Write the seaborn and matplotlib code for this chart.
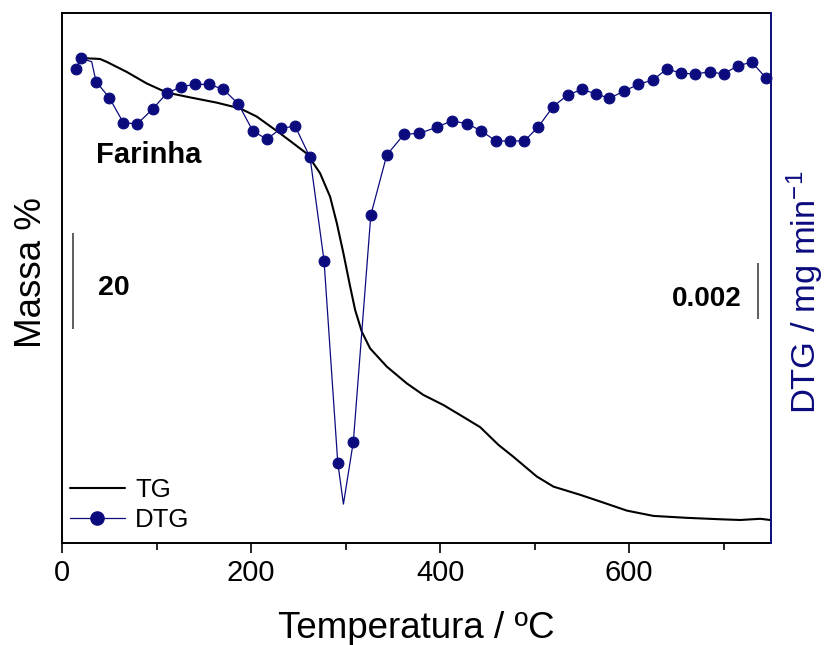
import matplotlib
matplotlib.use("Agg")
import matplotlib.pyplot as plt
import seaborn as sns
from matplotlib.lines import Line2D

# --- TG curve: temperature (ºC) and residual mass (%) ---
tg_temp = [19.8, 40.2, 47.3, 68.5, 89.6, 110.8, 135.4, 163.7, 188.4, 206.0,
           230.7, 258.9, 273.0, 283.6, 290.7, 297.7, 304.8, 310.1, 317.1, 325.9,
           343.6, 364.8, 382.3, 403.5, 424.7, 442.3, 461.7, 477.6, 502.3, 519.9,
           548.1, 569.3, 597.6, 625.7, 661.1, 696.3, 717.5, 738.6, 749.2]
tg_mass = [100.0, 99.8, 99.2, 97.1, 94.7, 92.8, 91.8, 90.7, 89.5, 87.8,
           84.3, 80.1, 76.0, 71.1, 65.6, 59.3, 52.4, 47.5, 43.0, 39.5,
           35.7, 32.2, 29.8, 27.7, 25.2, 23.1, 19.4, 16.9, 12.8, 10.7,
           9.0, 7.6, 5.7, 4.6, 4.2, 3.9, 3.75, 4.0, 3.75]

# --- DTG curve: temperature (ºC) and rate (mg/min) ---
dtg_temp = [14.8, 19.8, 31.4, 36.0, 50.1, 64.9, 79.7, 95.9, 110.8, 126.2,
            141.1, 155.9, 170.7, 186.6, 201.8, 216.6, 231.7, 246.6, 262.4, 277.2,
            291.7, 297.7, 308.2, 326.7, 343.6, 361.9, 378.1, 396.5, 412.4, 428.9,
            443.4, 458.9, 474.1, 489.2, 504.0, 519.3, 534.9, 549.9, 565.1, 579.1,
            595.0, 609.8, 625.1, 639.9, 655.0, 669.8, 685.0, 699.8, 715.0, 729.8,
            745.0]
dtg_rate = [-0.00051, -0.00012, -0.00024, -0.00095, -0.00153, -0.00242, -0.00246, -0.00193, -0.00137, -0.00113,
            -0.00105, -0.00105, -0.00123, -0.00175, -0.00271, -0.00301, -0.00262, -0.00254, -0.00366, -0.00735,
            -0.01456, -0.01604, -0.01381, -0.00571, -0.00357, -0.00283, -0.00280, -0.00258, -0.00235, -0.00246,
            -0.00271, -0.00307, -0.00307, -0.00307, -0.00256, -0.00185, -0.00143, -0.00123, -0.00139, -0.00155,
            -0.00128, -0.00105, -0.00089, -0.00050, -0.00065, -0.00068, -0.00060, -0.00068, -0.00038, -0.00026,
            -0.00083]
# points of the DTG trace that are drawn without a marker
dtg_unmarked = [2, 21]

# scale bars
mass_bar = 20
dtg_bar = 0.002

navy = "#0b0b7e"

sns.set_style("ticks")
plt.rcParams["font.family"] = ["Liberation Sans", "DejaVu Sans"]
plt.rcParams["mathtext.fontset"] = "custom"
plt.rcParams["mathtext.rm"] = "Liberation Sans"
plt.rcParams["mathtext.default"] = "regular"
for key in ["text.color", "axes.labelcolor", "xtick.color", "xtick.labelcolor"]:
    plt.rcParams[key] = "black"

fig = plt.figure(figsize=(8.27, 6.45), dpi=100)
ax = fig.add_axes([62 / 827, 1 - 542.7 / 645, 709 / 827, 530 / 645])
ax2 = ax.twinx()

sns.lineplot(x=tg_temp, y=tg_mass, ax=ax, color="black", lw=1.5,
             sort=False, estimator=None)

marked = [i for i in range(len(dtg_temp)) if i not in dtg_unmarked]
sns.lineplot(x=dtg_temp, y=dtg_rate, ax=ax2, color=navy, lw=0.9,
             marker="o", markersize=7.8, markeredgecolor=navy,
             markevery=marked, sort=False, estimator=None, clip_on=False)

ax.set_xlim(0, 750)
ax.set_ylim(-0.98, 109.44)
ax2.set_ylim(-0.01742, 0.00151)

ax.set_xticks([0, 200, 400, 600])
ax.set_xticks([100, 300, 500, 700], minor=True)
ax.tick_params(axis="x", which="major", direction="out", length=7, width=1.2,
               labelsize=21, pad=5, color="black")
ax.tick_params(axis="x", which="minor", direction="out", length=5, width=1.2)
ax.set_yticks([])
ax2.set_yticks([])

for s in ["left", "bottom", "top"]:
    ax.spines[s].set_linewidth(1.4)
    ax.spines[s].set_color("black")
ax.spines["right"].set_visible(False)
for s in ["left", "bottom", "top"]:
    ax2.spines[s].set_visible(False)
ax2.spines["right"].set_color(navy)
ax2.spines["right"].set_linewidth(1.4)

ax.set_xlabel("Temperatura / ºC", fontsize=26.5, labelpad=17)
ax.set_ylabel("Massa %", fontsize=26.5, labelpad=9.5)
ax.yaxis.label.set_y(0.51)
ax2.set_ylabel("DTG / mg min$^{-1}$", fontsize=24.8, color=navy, labelpad=9.5)
ax2.yaxis.label.set_y(0.473)

# sample name
ax.text(36, 79.8, "Farinha", fontsize=21, fontweight="bold",
        va="center", ha="left")

# mass scale bar
ax.vlines(11.3, 43.5, 43.5 + mass_bar, color="#333333", lw=1.1)
ax.text(38, 52, f"{mass_bar}", fontsize=20.5, fontweight="bold",
        va="center", ha="left")

# DTG scale bar
bar_top = -0.00743
ax2.vlines(736.5, bar_top - dtg_bar, bar_top, color="#333333", lw=1.1)
ax2.text(718.5, -0.0087, f"{dtg_bar}", fontsize=20, fontweight="bold",
         va="center", ha="right")

handles = [Line2D([], [], color="black", lw=1.5),
           Line2D([], [], color=navy, lw=0.9, marker="o", markersize=9.5,
                  markeredgecolor=navy)]
ax2.legend(handles, ["TG", "DTG"], loc="lower left",
           bbox_to_anchor=(0.011, 0.021), frameon=False, fontsize=18.5,
           handlelength=2.15, handletextpad=0.4, labelspacing=0.2,
           borderaxespad=0, borderpad=0)

fig.savefig("out.png", dpi=100)
